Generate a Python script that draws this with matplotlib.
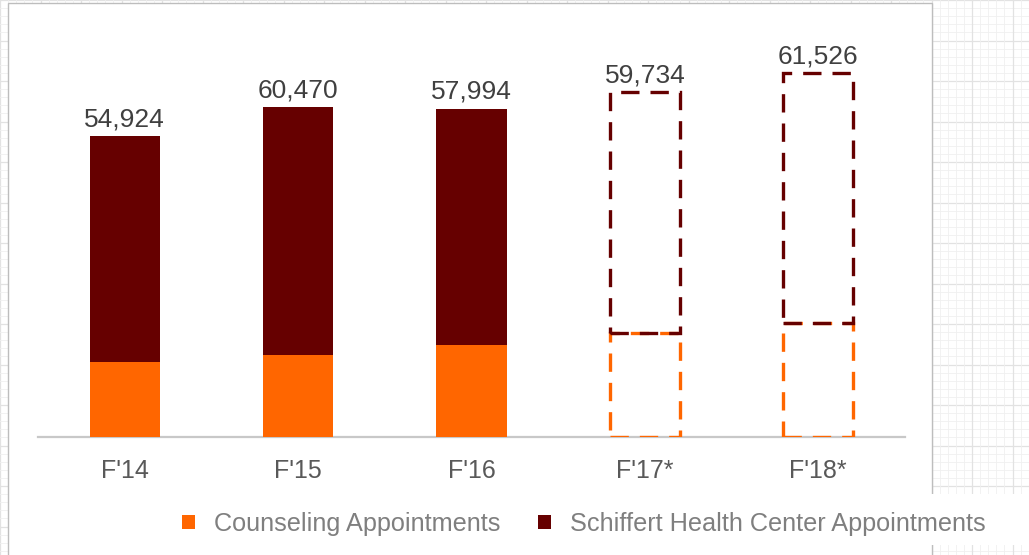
import matplotlib.pyplot as plt
from matplotlib.patches import Rectangle, Patch

# data
years = ["F'14", "F'15", "F'16", "F'17*", "F'18*"]
counseling = [13760, 14930, 16760, 18960, 20890]
health_center = [41160, 45390, 43270, 44110, 45650]
total_labels = ["54,924", "60,470", "57,994", "59,734", "61,526"]
projected = [False, False, False, True, True]

ORANGE = "#FF6600"
MAROON = "#660000"

W, H = 1029, 555
plt.rcParams['font.family'] = ['Liberation Sans', 'DejaVu Sans']

fig = plt.figure(figsize=(W / 100, H / 100), dpi=100)

# graph-paper backdrop of the screenshot
bg = fig.add_axes([0, 0, 1, 1])
bg.set_xlim(0, W)
bg.set_ylim(H, 0)
bg.axis('off')
step = 8.1
i = 0
while i * step < W:
    c, lw = ("#E2E2E2", 0.9) if i % 5 == 0 else ("#F0F0F0", 0.6)
    bg.axvline(i * step, color=c, lw=lw, zorder=0)
    if i * step < H:
        bg.axhline(i * step, color=c, lw=lw, zorder=0)
    i += 1
bg.add_patch(Rectangle((8, 3), 924, 560, facecolor='white',
                       edgecolor='#BDBDBD', lw=1.0, zorder=1))
bg.add_patch(Rectangle((930, 494), 110, 51, facecolor='white',
                       edgecolor='none', zorder=2))

# main chart
ax = fig.add_axes([38 / W, (H - 437) / H, (905 - 38) / W, 400 / H])
ax.set_xlim(-0.5, 4.5)
ax.set_ylim(0, 73100)
ax.patch.set_alpha(0)

x = list(range(len(years)))
width = 0.405
dash = (0, (5.5, 3.3))
for xi, c, hc, lab, proj in zip(x, counseling, health_center, total_labels, projected):
    if proj:
        ax.bar(xi, c, width, fill=False, edgecolor=ORANGE, linestyle=dash,
               linewidth=2.4, zorder=3)
        ax.bar(xi, hc, width, bottom=c, fill=False, edgecolor=MAROON,
               linestyle=dash, linewidth=2.4, zorder=4)
    else:
        ax.bar(xi, c, width, color=ORANGE, zorder=3)
        ax.bar(xi, hc, width, bottom=c, color=MAROON, zorder=3)
    ax.annotate(lab, (xi, c + hc), xytext=(0, 7), textcoords='offset points',
                ha='center', va='baseline', fontsize=19, color='#404040')

ax.set_xticks(x)
ax.set_xticklabels(years, fontsize=18, color='#595959')
ax.tick_params(axis='x', length=0, pad=16)
ax.set_yticks([])
for s in ['top', 'left', 'right']:
    ax.spines[s].set_visible(False)
ax.spines['bottom'].set_color('#C8C8C8')
ax.spines['bottom'].set_linewidth(1.6)

handles = [Patch(facecolor=ORANGE, edgecolor='none'),
           Patch(facecolor=MAROON, edgecolor='none')]
fig.legend(handles, ['Counseling Appointments', 'Schiffert Health Center Appointments'],
           loc='center', bbox_to_anchor=(584 / W, 31 / H), ncol=2, frameon=False,
           fontsize=18.2, labelcolor='#7F7F7F', handlelength=0.5, handleheight=0.5,
           handletextpad=0.75, columnspacing=1.5)

fig.savefig('out.png', dpi=100)
